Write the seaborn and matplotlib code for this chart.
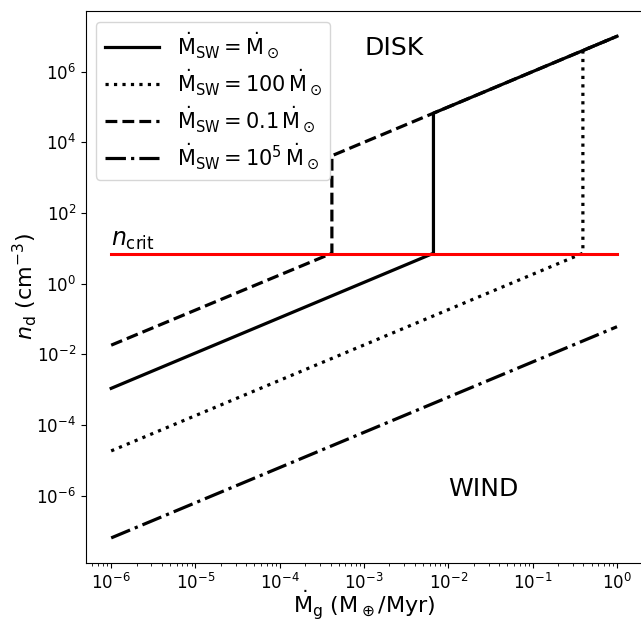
import numpy as np
import matplotlib
matplotlib.use("Agg")
import matplotlib.pyplot as plt
import seaborn as sns

# Gas accretion rate (M_earth/Myr) break points and densities n_d (cm^-3)
mg_solid = [1e-6, 6.65e-3, 6.65e-3, 1.0]
nd_solid = [1.08e-3, 7.2, 6.65e4, 1.0e7]

mg_dotted = [1e-6, 0.394, 0.394, 1.0]
nd_dotted = [1.83e-5, 7.2, 3.94e6, 1.0e7]

mg_dashed = [1e-6, 4.15e-4, 4.15e-4, 1.0]
nd_dashed = [1.8e-2, 7.2, 4.15e3, 1.0e7]

mg_dashdot = [1e-6, 1.0]
nd_dashdot = [6.3e-8, 6.0e-2]

n_crit = 7.0
mg_range = [1e-6, 1.0]

labels = [
    r'$\dot{\rm M}_{\rm SW} = \dot{\rm M}_\odot$',
    r'$\dot{\rm M}_{\rm SW} = 100\,\dot{\rm M}_\odot$',
    r'$\dot{\rm M}_{\rm SW} = 0.1\,\dot{\rm M}_\odot$',
    r'$\dot{\rm M}_{\rm SW} = 10^5\,\dot{\rm M}_\odot$',
]

fig = plt.figure(figsize=(6.41, 6.21), dpi=100)
ax = fig.add_axes([0.134, 0.0934, 0.868, 0.8886])

series = [
    (mg_solid, nd_solid, '-'),
    (mg_dotted, nd_dotted, ':'),
    (mg_dashed, nd_dashed, '--'),
    (mg_dashdot, nd_dashdot, '-.'),
]
for (xs, ys, ls), lab in zip(series, labels):
    sns.lineplot(x=xs, y=ys, sort=False, estimator=None, color='k',
                 linestyle=ls, linewidth=2.3, label=lab, ax=ax)

sns.lineplot(x=mg_range, y=[n_crit, n_crit], sort=False, estimator=None,
             color='red', linewidth=2.2, ax=ax)

ax.set_xscale('log')
ax.set_yscale('log')
ax.set_yticks([1e-6, 1e-4, 1e-2, 1e0, 1e2, 1e4, 1e6])
ax.tick_params(axis='y', which='minor', left=False)
ax.tick_params(labelsize=12)

ax.text(1e-6, 7.6, r'$n_{\rm crit}$', fontsize=17, ha='left', va='bottom')
ax.text(1e-3, 3e6, 'DISK', fontsize=18, ha='left', va='baseline')
ax.text(1e-2, 1e-6, 'WIND', fontsize=18, ha='left', va='baseline')

ax.set_xlabel(r'$\dot{\rm M}_{\rm g}$ (M$_\oplus$/Myr)', fontsize=16,
              labelpad=-3)
ax.set_ylabel(r'$n_{\rm d}$ (cm$^{-3}$)', fontsize=16, labelpad=-2)

handles, labs = ax.get_legend_handles_labels()
ax.legend(handles[:4], labs[:4], loc='upper left', fontsize=15,
          handlelength=2.6, handletextpad=0.85, labelspacing=0.35)

fig.savefig('out.png', dpi=100)
